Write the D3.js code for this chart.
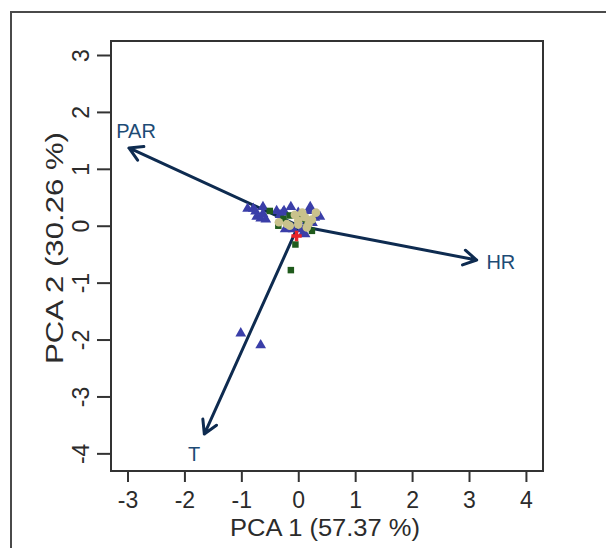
<!DOCTYPE html>
<html>
<head>
<meta charset="utf-8">
<script src="https://cdn.jsdelivr.net/npm/d3@7"></script>
<style>
  body { margin: 0; background: #fff; }
  svg { display: block; font-family: "Liberation Sans", Arial, sans-serif; }
  .tick text { font-family: "Liberation Sans", Arial, sans-serif; font-size: 23px; fill: #2b2b2b; }
</style>
</head>
<body>
<script>
// loadings (arrow tips) and where their labels sit, in PCA units
var varNames = ["PAR", "HR", "T"];
var arrowX = [-2.975, 3.135, -1.65];
var arrowY = [1.366, -0.603, -3.66];
var labelX = [-2.85, 3.56, -1.83];
var labelY = [1.66, -0.63, -4.01];

// scores, one list per group
var triX = [-0.89, -0.79, -0.75, -0.73, -0.66, -0.57, -0.62, -0.62, -0.38, -0.32, -0.27, -0.13, 0.21, 0.19, 0.38, 0.29, -0.25, 0.00, -0.23, -0.15, 0.06, 0.12, -0.09, 0.08, 0.25, 0.15, -1.01, -0.66];
var triY = [0.30, 0.30, 0.25, 0.16, 0.13, 0.11, 0.21, 0.33, 0.26, 0.19, 0.23, 0.33, 0.33, 0.26, 0.16, 0.14, 0.26, 0.23, -0.06, -0.03, -0.06, -0.15, -0.06, -0.14, 0.05, 0.08, -1.89, -2.10];
var sqX = [-0.50, -0.26, 0.06, 0.15, -0.35, 0.18, 0.24, -0.05, -0.13, -0.15, 0.24];
var sqY = [0.26, 0.12, 0.12, 0.06, 0.00, -0.03, -0.09, -0.33, -0.78, 0.18, 0.10];
var circX = [0.12, 0.24, 0.00, -0.15, 0.15, -0.34, -0.20, 0.00, 0.18, -0.06, 0.07, 0.31];
var circY = [0.15, 0.11, 0.09, 0.00, -0.03, 0.06, 0.03, 0.02, 0.03, 0.19, 0.23, 0.23];
var redX = [-0.03];
var redY = [-0.18];

var xTicks = [-3, -2, -1, 0, 1, 2, 3, 4];
var yTicks = [-4, -3, -2, -1, 0, 1, 2, 3];

var W = 606, H = 548;
var box = {left: 111, right: 543, top: 41, bottom: 471};

var svg = d3.select("body").append("svg")
    .attr("width", W)
    .attr("height", H);

// outer frame (only top and left are visible in the crop)
svg.append("path")
    .attr("d", "M11,548 V12 H606")
    .attr("fill", "none")
    .attr("stroke", "#4a4a4a")
    .attr("stroke-width", 2);

var x = d3.scaleLinear().domain([-3.29, 4.30]).range([box.left, box.right]);
var y = d3.scaleLinear().domain([3.246, -4.31]).range([box.top, box.bottom]);

// x axis
var gx = svg.append("g")
    .attr("transform", "translate(0," + box.bottom + ")")
    .call(d3.axisBottom(x).tickValues(xTicks).tickSize(11).tickPadding(10).tickSizeOuter(0)
        .tickFormat(function(d) { return String(d); }));
gx.select(".domain").remove();
gx.selectAll("line").attr("stroke", "#333").attr("stroke-width", 2);

// y axis, labels turned like R does
var gy = svg.append("g")
    .attr("transform", "translate(" + box.left + ",0)")
    .call(d3.axisLeft(y).tickValues(yTicks).tickSize(14).tickSizeOuter(0)
        .tickFormat(function(d) { return String(d); }));
gy.select(".domain").remove();
gy.selectAll("line").attr("stroke", "#333").attr("stroke-width", 2);
gy.selectAll("text")
    .attr("x", null)
    .attr("dy", null)
    .attr("transform", "translate(-22,0) rotate(-90)")
    .attr("text-anchor", "middle");

// axis titles
svg.append("text")
    .attr("x", 325)
    .attr("y", 536)
    .attr("text-anchor", "middle")
    .attr("fill", "#2b2b2b")
    .style("font-size", "23px")
    .attr("textLength", 190)
    .attr("lengthAdjust", "spacingAndGlyphs")
    .text("PCA 1 (57.37 %)");

svg.append("text")
    .attr("transform", "translate(63,248) rotate(-90)")
    .attr("text-anchor", "middle")
    .attr("fill", "#2b2b2b")
    .style("font-size", "23px")
    .attr("textLength", 232)
    .attr("lengthAdjust", "spacingAndGlyphs")
    .text("PCA 2 (30.26 %)");

// plot box
svg.append("rect")
    .attr("x", box.left)
    .attr("y", box.top)
    .attr("width", box.right - box.left)
    .attr("height", box.bottom - box.top)
    .attr("fill", "none")
    .attr("stroke", "#333")
    .attr("stroke-width", 2);

// loading arrows
var arrowColor = "#0e2b50";
var headLen = 15, headAng = Math.PI / 6;
var arrows = varNames.map(function(n, i) {
    return {name: n, x: arrowX[i], y: arrowY[i], lx: labelX[i], ly: labelY[i]};
});

svg.append("g").selectAll("path")
    .data(arrows)
    .join("path")
    .attr("d", function(d) {
        var x0 = x(0), y0 = y(0), x1 = x(d.x), y1 = y(d.y);
        var a = Math.atan2(y1 - y0, x1 - x0);
        var h1 = [x1 - headLen * Math.cos(a - headAng), y1 - headLen * Math.sin(a - headAng)];
        var h2 = [x1 - headLen * Math.cos(a + headAng), y1 - headLen * Math.sin(a + headAng)];
        return "M" + x0 + "," + y0 + "L" + x1 + "," + y1 +
            "M" + h1[0] + "," + h1[1] + "L" + x1 + "," + y1 + "L" + h2[0] + "," + h2[1];
    })
    .attr("fill", "none")
    .attr("stroke", arrowColor)
    .attr("stroke-width", 3)
    .attr("stroke-linecap", "round")
    .attr("stroke-linejoin", "round");

svg.append("g").selectAll("text")
    .data(arrows)
    .join("text")
    .attr("x", function(d) { return x(d.lx); })
    .attr("y", function(d) { return y(d.ly); })
    .attr("dy", "0.36em")
    .attr("text-anchor", "middle")
    .attr("fill", "#1d4b75")
    .style("font-size", "20px")
    .text(function(d) { return d.name; });

// scores
function zip(xs, ys) { return xs.map(function(v, i) { return [v, ys[i]]; }); }
function at(d) { return "translate(" + x(d[0]) + "," + y(d[1]) + ")"; }

var pts = svg.append("g");

pts.selectAll(".tri")
    .data(zip(triX, triY))
    .join("path")
    .attr("class", "tri")
    .attr("transform", at)
    .attr("d", d3.symbol(d3.symbolTriangle, 50))
    .attr("fill", "#3a3ea8");

pts.selectAll(".sq")
    .data(zip(sqX, sqY))
    .join("path")
    .attr("class", "sq")
    .attr("transform", at)
    .attr("d", d3.symbol(d3.symbolSquare, 42))
    .attr("fill", "#1f5a1c");

pts.selectAll(".circ")
    .data(zip(circX, circY))
    .join("path")
    .attr("class", "circ")
    .attr("transform", at)
    .attr("d", d3.symbol(d3.symbolCircle, 58))
    .attr("fill", "#c9c28c");

pts.selectAll(".red")
    .data(zip(redX, redY))
    .join("path")
    .attr("class", "red")
    .attr("transform", at)
    .attr("d", d3.symbol(d3.symbolCross, 60))
    .attr("fill", "#e8232a");
</script>
</body>
</html>
